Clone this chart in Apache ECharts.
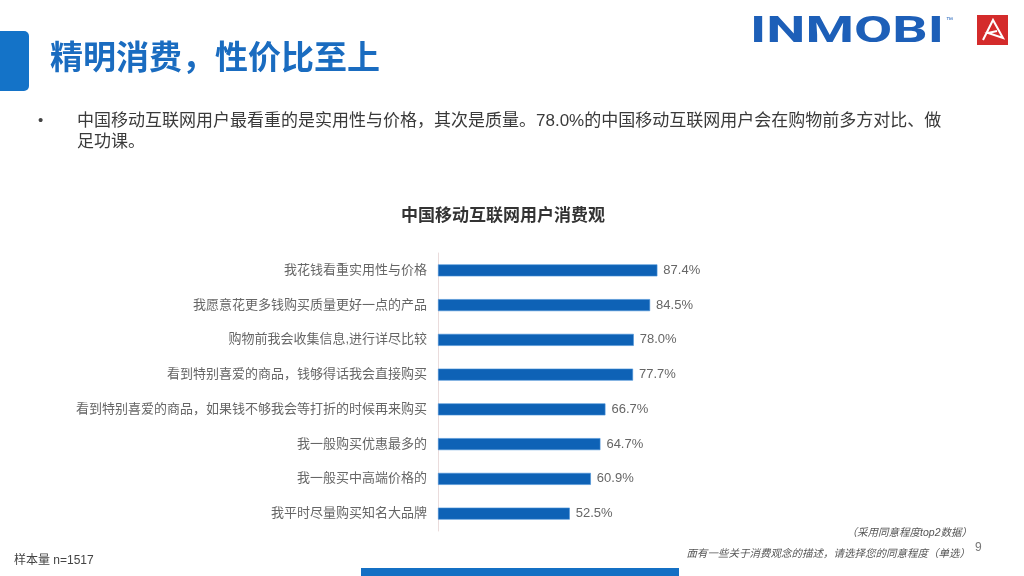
<!DOCTYPE html>
<html>
<head>
<meta charset="utf-8">
<script src="https://cdn.jsdelivr.net/npm/echarts@6/dist/echarts.min.js"></script>
<style>
  html, body { margin: 0; padding: 0; background: #fff; }
  #main { width: 1024px; height: 576px; }
</style>
</head>
<body>
<div id="main"></div>
<script>
// data
var categories = [
    '我花钱看重实用性与价格',
    '我愿意花更多钱购买质量更好一点的产品',
    '购物前我会收集信息,进行详尽比较',
    '看到特别喜爱的商品，钱够得话我会直接购买',
    '看到特别喜爱的商品，如果钱不够我会等打折的时候再来购买',
    '我一般购买优惠最多的',
    '我一般买中高端价格的',
    '我平时尽量购买知名大品牌'
];
var values = [87.4, 84.5, 78.0, 77.7, 66.7, 64.7, 60.9, 52.5];

var pageTitle = '精明消费，性价比至上';
var bulletLines = [
    '中国移动互联网用户最看重的是实用性与价格，其次是质量。78.0%的中国移动互联网用户会在购物前多方对比、做',
    '足功课。'
];
var chartTitle = '中国移动互联网用户消费观';
var noteLines = ['（采用同意程度top2数据）', '面有一些关于消费观念的描述，请选择您的同意程度（单选）'];
var sampleText = '样本量 n=1517';

var FONT = '"Liberation Sans", "Noto Sans CJK SC", sans-serif';

var myChart = echarts.init(document.getElementById('main'));

var option = {
    backgroundColor: '#ffffff',
    textStyle: { fontFamily: FONT },
    title: {
        text: chartTitle,
        left: 396,
        top: 203,
        textStyle: { fontSize: 17, fontWeight: 'bold', color: '#333333', fontFamily: FONT }
    },
    grid: { left: 438, top: 253, width: 251, height: 278 },
    xAxis: {
        type: 'value',
        min: 0,
        max: 100,
        show: false
    },
    yAxis: {
        type: 'category',
        inverse: true,
        data: categories,
        axisLine: { show: true, lineStyle: { color: '#eadcdc', width: 1 } },
        axisTick: { show: false },
        axisLabel: { margin: 11, fontSize: 13, color: '#666666', fontFamily: FONT }
    },
    series: [{
        type: 'bar',
        data: values,
        barWidth: 12,
        itemStyle: { color: '#0e62b6', borderColor: '#4a92d8', borderWidth: 0.6 },
        label: {
            show: true,
            position: 'right',
            distance: 6,
            fontSize: 13,
            color: '#666666',
            fontFamily: FONT,
            formatter: function(p) {
                return p.value.toFixed(1) + '%';
            }
        }
    }],
    graphic: [
        // left tab
        { type: 'rect', shape: { x: -6, y: 31, width: 35, height: 60, r: 5 }, style: { fill: '#1473c8' } },
        {
            type: 'text', x: 50, y: 60,
            style: { text: pageTitle, fontSize: 33, fontWeight: 'bold', fill: '#1a6cc0', fontFamily: FONT, verticalAlign: 'middle' }
        },
        // logo
        {
            type: 'text', x: 750, y: 33, scaleX: 1.5,
            style: { text: 'INMOBI', fontSize: 37, fontWeight: 'bold', fill: '#1d5fb8', fontFamily: 'Roboto, "DejaVu Sans", sans-serif', verticalAlign: 'middle' }
        },
        {
            type: 'text', x: 946, y: 17,
            style: { text: '™', fontSize: 7, fill: '#1d5fb8', fontFamily: FONT }
        },
        { type: 'rect', shape: { x: 977, y: 15, width: 31, height: 30 }, style: { fill: '#d42b2b' } },
        {
            type: 'polyline',
            shape: { points: [[983, 40], [993, 20], [1003, 38], [988, 33], [997, 31]] },
            style: { stroke: '#ffffff', lineWidth: 2, fill: null }
        },
        // bullet text
        {
            type: 'text', x: 38, y: 121,
            style: { text: '•', fontSize: 15, fill: '#444444', fontFamily: FONT, verticalAlign: 'middle' }
        },
        {
            type: 'text', x: 77, y: 121,
            style: { text: bulletLines[0], fontSize: 17, fill: '#3a3a3a', fontFamily: FONT, verticalAlign: 'middle' }
        },
        {
            type: 'text', x: 77, y: 142,
            style: { text: bulletLines[1], fontSize: 17, fill: '#3a3a3a', fontFamily: FONT, verticalAlign: 'middle' }
        },
        // notes
        {
            type: 'text', x: 972, y: 533,
            style: { text: noteLines[0], fontSize: 10.5, fontStyle: 'italic', fill: '#555555', fontFamily: FONT, align: 'right', verticalAlign: 'middle' }
        },
        {
            type: 'text', x: 970, y: 554,
            style: { text: noteLines[1], fontSize: 10.5, fontStyle: 'italic', fill: '#555555', fontFamily: FONT, align: 'right', verticalAlign: 'middle' }
        },
        {
            type: 'text', x: 975, y: 548,
            style: { text: '9', fontSize: 12, fill: '#777777', fontFamily: FONT, verticalAlign: 'middle' }
        },
        {
            type: 'text', x: 14, y: 561,
            style: { text: sampleText, fontSize: 12, fill: '#444444', fontFamily: FONT, verticalAlign: 'middle' }
        },
        // bottom band
        { type: 'rect', shape: { x: 361, y: 568, width: 318, height: 8 }, style: { fill: '#1470c4' } }
    ]
};

myChart.setOption(option);
</script>
</body>
</html>
